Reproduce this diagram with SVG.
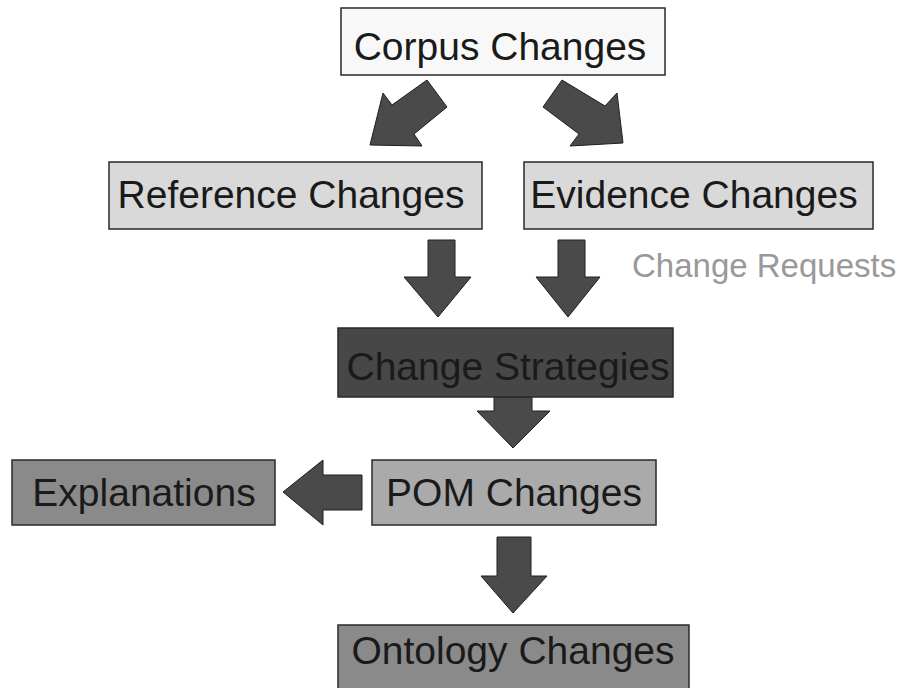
<svg xmlns="http://www.w3.org/2000/svg" width="906" height="688" viewBox="0 0 906 688">
<style>
.box{stroke:#2a2a2a;stroke-width:1.5}
.lbl{font-family:"Liberation Sans",Arial,sans-serif;font-size:39px;fill:#1a1a1a;text-anchor:middle}
.arr{fill:#4a4a4a;stroke:#1e1e1e;stroke-width:1;stroke-linejoin:miter}
</style>
<rect width="906" height="688" fill="#fff"/>
<g id="connectors">
<polygon class="arr" points="427,80 447,107 414,134 422,146 370,145 383,93 392,105"/>
<polygon class="arr" points="562,80 605,106 617,93 623,143 570,146 579,134 543,107"/>
<polygon class="arr" points="428,240 455,240 455,277 471,277 438,317 404,277 428,277"/>
<polygon class="arr" points="558,240 585,240 585,277 600,277 568,317 536,277 558,277"/>
<polygon class="arr" points="494,397 532,397 532,411 550,411 513,448 477,411 494,411"/>
<polygon class="arr" points="497,537 531,537 531,576 547,576 513,613 481,576 497,576"/>
<polygon class="arr" points="362,475 362,510 323,510 323,525 283,492 323,460 323,475"/>
</g>
<g id="corpus">
<rect class="box" x="341" y="8" width="324" height="67" fill="#f8f8f8"/>
<text class="lbl" x="500" y="60">Corpus Changes</text>
</g>
<g id="reference">
<rect class="box" x="109" y="162" width="373" height="67" fill="#d9d9d9"/>
<text class="lbl" x="291" y="208">Reference Changes</text>
</g>
<g id="evidence">
<rect class="box" x="524" y="162" width="349" height="67" fill="#d9d9d9"/>
<text class="lbl" x="694" y="208">Evidence Changes</text>
</g>
<g id="change-requests">
<text x="632" y="277" font-family="Liberation Sans,Arial,sans-serif" font-size="33" fill="#999">Change Requests</text>
</g>
<g id="strategies">
<rect class="box" x="338" y="328" width="335" height="69" fill="#474747"/>
<text class="lbl" x="508" y="380">Change Strategies</text>
</g>
<g id="pom">
<rect class="box" x="372" y="460" width="284" height="65" fill="#aaaaaa"/>
<text class="lbl" x="514" y="506">POM Changes</text>
</g>
<g id="explanations">
<rect class="box" x="12" y="460" width="263" height="65" fill="#8a8a8a"/>
<text class="lbl" x="144" y="506">Explanations</text>
</g>
<g id="ontology">
<rect class="box" x="338" y="625" width="351" height="70" fill="#8a8a8a"/>
<text class="lbl" x="513" y="664">Ontology Changes</text>
</g>
</svg>
